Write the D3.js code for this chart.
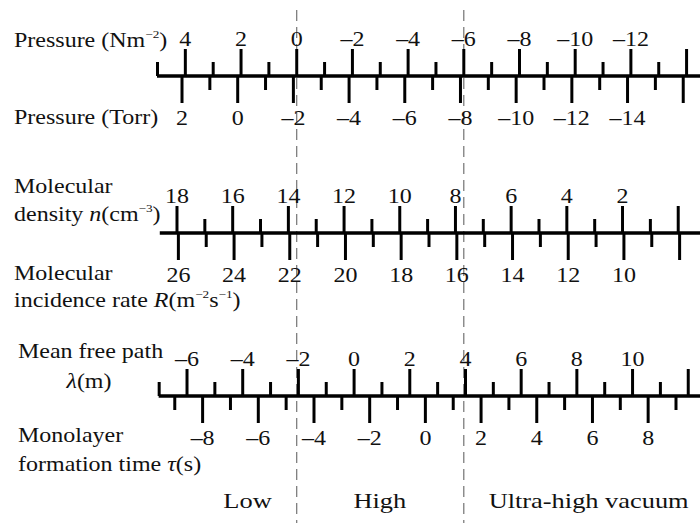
<!DOCTYPE html>
<html>
<head>
<meta charset="utf-8">
<script src="https://cdn.jsdelivr.net/npm/d3@7"></script>
<style>
  body { margin: 0; background: #fff; }
  text { font-family: "Liberation Serif", "Times New Roman", serif; fill: #111; }
</style>
</head>
<body>
<svg id="chart" width="700" height="523"></svg>
<script>
// log10 values printed on each scale
const nmLabels = [4, 2, 0, -2, -4, -6, -8, -10, -12];
const torrLabels = [2, 0, -2, -4, -6, -8, -10, -12, -14];
const densityLabels = [18, 16, 14, 12, 10, 8, 6, 4, 2];
const incidenceLabels = [26, 24, 22, 20, 18, 16, 14, 12, 10];
const mfpLabels = [-6, -4, -2, 0, 2, 4, 6, 8, 10];
const monolayerLabels = [-8, -6, -4, -2, 0, 2, 4, 6, 8];

// each quantity vs log pressure in N m^-2 (q = sign * logP + offset), as drawn
const torrOffset = -2.12;
const densityOffset = 13.7;
const incidenceOffset = 21.75;
const mfpOffset = -2.06;       // lambda falls with pressure
const monolayerOffset = -4.62; // tau grows as pressure falls

const regimeEdges = [0, -6];           // dashed boundaries, log p (N m^-2)
const regimeNames = ['Low', 'High', 'Ultra-high vacuum'];
const regimeAt = [1.75, -3, -10.5];    // where each name sits, log p

const svg = d3.select('#chart');
const W = 700, H = 523;
const pDomain = [5, -14.5];
const xP = d3.scaleLinear().domain(pDomain).range([157, W]);
const MAJOR = 27, MINOR = 14, SX = 1.2;

const fmt = v => (v < 0 ? '\u2013' + (-v) : String(v));

// scale for a quantity q = sign * logP + offset, sharing the pixel range
function qScale(sign, offset) {
    return d3.scaleLinear()
        .domain(pDomain.map(p => sign * p + offset))
        .range(xP.range());
}

function intTicks(scale) {
    const [a, b] = d3.extent(scale.domain());
    return d3.range(Math.ceil(a), Math.floor(b) + 1);
}

function stretched(x, y, size, anchor) {
    return svg.append('text')
        .attr('transform', `translate(${x},${y}) scale(${SX},1)`)
        .attr('font-size', size)
        .attr('text-anchor', anchor || 'start');
}

// dashed regime boundaries (under everything else)
svg.selectAll('line.regime').data(regimeEdges).enter().append('line')
    .attr('class', 'regime')
    .attr('x1', d => xP(d) + 0.5).attr('x2', d => xP(d) + 0.5)
    .attr('y1', 10).attr('y2', H)
    .attr('stroke', '#666').attr('stroke-width', 1.1)
    .attr('stroke-dasharray', '11,6');

function drawScale(scale, y, up, labels) {
    const ticks = intTicks(scale);
    const major = ticks.filter(v => v % 2 === 0);
    const minor = ticks.filter(v => v % 2 !== 0);
    const make = up ? d3.axisTop : d3.axisBottom;

    const gMinor = svg.append('g').attr('transform', `translate(0,${y})`)
        .call(make(scale).tickValues(minor).tickSize(MINOR).tickFormat(''));
    const gMajor = svg.append('g').attr('transform', `translate(0,${y})`)
        .call(make(scale).tickValues(major).tickSize(MAJOR)
            .tickFormat(d => labels.includes(d) ? fmt(d) : ''));

    for (const g of [gMinor, gMajor]) {
        g.select('.domain').remove();
        g.selectAll('line').attr('stroke', '#000').attr('stroke-width', 3);
    }
    gMajor.selectAll('text')
        .attr('fill', '#111').attr('font-size', 20)
        .attr('y', up ? -30 : 49).attr('dy', 0)
        .attr('transform', `scale(${SX},1)`);
}

function drawLine(y, fromP) {
    svg.append('line')
        .attr('x1', xP(fromP)).attr('x2', W)
        .attr('y1', y).attr('y2', y)
        .attr('stroke', '#000').attr('stroke-width', 3.5);
}

// Pressure
const yPress = 76;
drawLine(yPress, 5);
drawScale(qScale(1, 0), yPress, true, nmLabels);
drawScale(qScale(1, torrOffset), yPress, false, torrLabels);

// Molecular density / incidence rate
const yDens = 233;
drawLine(yDens, 4.9);
drawScale(qScale(1, densityOffset), yDens, true, densityLabels);
drawScale(qScale(1, incidenceOffset), yDens, false, incidenceLabels);

// Mean free path / monolayer time
const yMfp = 396;
drawLine(yMfp, 4.94);
drawScale(qScale(-1, mfpOffset), yMfp, true, mfpLabels);
drawScale(qScale(-1, monolayerOffset), yMfp, false, monolayerLabels);

// Left-hand titles
let t = stretched(14, 47, 20);
t.append('tspan').text('Pressure (Nm');
t.append('tspan').attr('font-size', 11).attr('dy', -9).text('\u22122');
t.append('tspan').attr('dy', 9).text(')');

stretched(14, 124, 20).text('Pressure (Torr)');

stretched(14, 193, 20).text('Molecular');
t = stretched(14, 221, 20);
t.append('tspan').text('density ');
t.append('tspan').attr('font-style', 'italic').text('n');
t.append('tspan').text('(cm');
t.append('tspan').attr('font-size', 11).attr('dy', -9).text('\u22123');
t.append('tspan').attr('dy', 9).text(')');

stretched(14, 280, 20).text('Molecular');
t = stretched(14, 307, 20);
t.append('tspan').text('incidence rate ');
t.append('tspan').attr('font-style', 'italic').text('R');
t.append('tspan').text('(m');
t.append('tspan').attr('font-size', 11).attr('dy', -9).text('\u22122');
t.append('tspan').attr('dy', 9).text('s');
t.append('tspan').attr('font-size', 11).attr('dy', -9).text('\u22121');
t.append('tspan').attr('dy', 9).text(')');

stretched(18, 358, 20).text('Mean free path');
t = stretched(89, 388, 20, 'middle');
t.append('tspan').attr('font-style', 'italic').text('\u03bb');
t.append('tspan').text('(m)');

stretched(18, 442, 20).text('Monolayer');
t = stretched(18, 471, 20);
t.append('tspan').text('formation time ');
t.append('tspan').attr('font-style', 'italic').text('\u03c4');
t.append('tspan').text('(s)');

// Regime names
regimeNames.forEach((name, i) => {
    stretched(xP(regimeAt[i]), 508, 22, 'middle').text(name);
});
</script>
</body>
</html>
